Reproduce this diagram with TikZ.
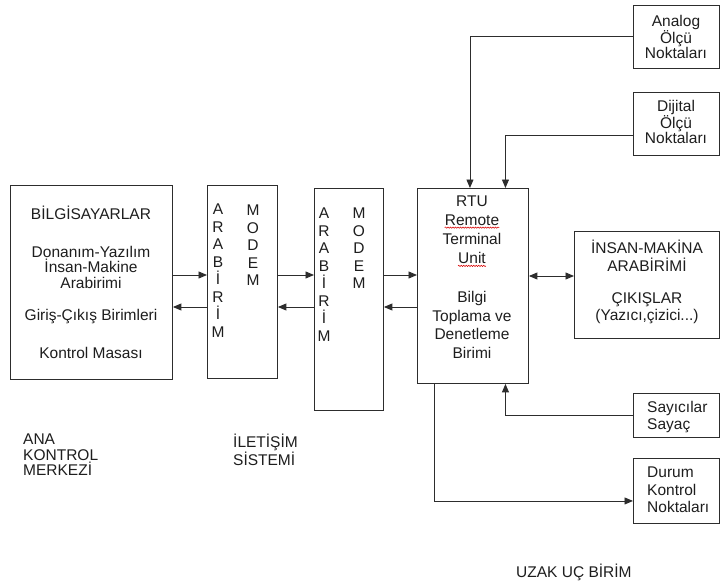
\documentclass[tikz,border=0pt]{standalone}
\usepackage{fontspec}
\setmainfont{Liberation Sans}
\usetikzlibrary{arrows.meta,decorations.pathmorphing}
\definecolor{linec}{RGB}{45,45,45}
\definecolor{txtc}{RGB}{30,30,30}
\newcommand{\fsz}{\fontsize{15.5}{15.5}\selectfont}
\begin{document}
\begin{tikzpicture}[x=1pt,y=-1pt,
  box/.style={draw=linec, line width=0.9pt, inner sep=0pt, anchor=north west},
  txt/.style={font=\fsz, text=txtc, align=center, inner sep=0pt},
  ltxt/.style={font=\fsz, text=txtc, align=left, inner sep=0pt, anchor=west},
  vtxt/.style={font=\fsz, text=txtc, align=center, inner sep=0pt, anchor=north},
  arr/.style={draw=linec, line width=0.9pt, -{Triangle[length=8.5pt,width=7pt]}},
  darr/.style={draw=linec, line width=0.9pt, {Triangle[length=8.5pt,width=7pt]}-{Triangle[length=8.5pt,width=7pt]}},
  wavy/.style={draw=red!85!black, line width=0.5pt, decorate, decoration={snake, amplitude=0.7pt, segment length=2.5pt}}]
\useasboundingbox (0,0) rectangle (720,583);
\fill[white] (0,0) rectangle (720,583);

% boxes
\node[box, minimum width=162pt, minimum height=194pt] (b1) at (10,185) {};
\node[box, minimum width=70pt, minimum height=193pt] (m1) at (207,185) {};
\node[box, minimum width=69pt, minimum height=222pt] (m2) at (314,188) {};
\node[box, minimum width=111pt, minimum height=195pt] (rtu) at (417,188) {};
\node[box, minimum width=145pt, minimum height=107pt] (hmi) at (574,231) {};
\node[box, minimum width=86pt, minimum height=63pt] (an) at (633,5) {};
\node[box, minimum width=86pt, minimum height=63pt] (dj) at (633,92) {};
\node[box, minimum width=86pt, minimum height=44pt] (say) at (633,393) {};
\node[box, minimum width=86pt, minimum height=65pt] (dur) at (633,458) {};

% box 1 texts
\node[txt] (t1a) at (91,213) {BİLGİSAYARLAR};
\node[txt] (t1b) at (91,267) {Donanım-Yazılım\\İnsan-Makine\\Arabirimi};
\node[txt] (t1c) at (91,317) {Giriş-Çıkış Birimleri};
\node[txt] (t1d) at (91,353) {Kontrol Masası};

% modem 1
\node[vtxt] (m1a) at (218,204) {A\\[2pt]R\\[2pt]A\\[2pt]B\\[2pt]İ\\[2pt]R\\[2pt]İ\\[2pt]M};
\node[vtxt] (m1b) at (253,205) {M\\[2pt]O\\[2pt]D\\[2pt]E\\[2pt]M};
% modem 2
\node[vtxt] (m2a) at (324,208) {A\\[2pt]R\\[2pt]A\\[2pt]B\\[2pt]İ\\[2pt]R\\[2pt]İ\\[2pt]M};
\node[vtxt] (m2b) at (359,208) {M\\[2pt]O\\[2pt]D\\[2pt]E\\[2pt]M};

% RTU texts
\node[txt] (r1) at (472,201) {RTU};
\node[txt] (r2) at (472,220) {Remote};
\node[txt] (r3) at (472,239) {Terminal};
\node[txt] (r4) at (472,258) {Unit};
\node[txt] (r5) at (472,325) {Bilgi\\[3pt]Toplama ve\\[3pt]Denetleme\\[3pt]Birimi};
\draw[wavy] ([yshift=-2pt]r2.south west) -- ([yshift=-2pt]r2.south east);
\draw[wavy] ([yshift=-2pt]r4.south west) -- ([yshift=-2pt]r4.south east);

% HMI texts
\node[txt] (h1) at (647,256) {İNSAN-MAKİNA\\[2pt]ARABİRİMİ};
\node[txt] (h2) at (647,308) {ÇIKIŞLAR\\[2pt](Yazıcı,çizici...)};

% right boxes
\node[txt] (a1) at (676,37) {Analog\\Ölçü\\Noktaları};
\node[txt] (d1) at (676,122) {Dijital\\Ölçü\\Noktaları};
\node[ltxt] (s1) at (647,417) {Sayıcılar\\[2pt]Sayaç};
\node[ltxt] (u1) at (647,490) {Durum\\[2pt]Kontrol\\[2pt]Noktaları};

% bottom labels
\node[ltxt] (l1) at (23,455) {ANA\\KONTROL\\MERKEZİ};
\node[ltxt] (l2) at (233,450) {İLETİŞİM\\SİSTEMİ};
\node[ltxt] (l3) at (516,572) {UZAK UÇ BİRİM};

% connectors
\draw[arr] (b1.east |- 0,275) -- (m1.west |- 0,275);
\draw[arr] (m1.west |- 0,307) -- (b1.east |- 0,307);
\draw[arr] (m1.east |- 0,275) -- (m2.west |- 0,275);
\draw[arr] (m2.west |- 0,307) -- (m1.east |- 0,307);
\draw[arr] (m2.east |- 0,275) -- (rtu.west |- 0,275);
\draw[arr] (rtu.west |- 0,307) -- (m2.east |- 0,307);
\draw[darr] (rtu.east |- 0,276) -- (hmi.west |- 0,276);

\draw[arr] (an.west) -| ([xshift=-3pt]rtu.north);
\draw[arr] ([yshift=-12pt]dj.west) -| ([xshift=32.5pt]rtu.north);
\draw[arr] (say.west) -| ([xshift=32.5pt]rtu.south);
\draw[arr] ([xshift=-38.5pt]rtu.south) |- ([yshift=-10pt]dur.west);
\end{tikzpicture}
\end{document}
